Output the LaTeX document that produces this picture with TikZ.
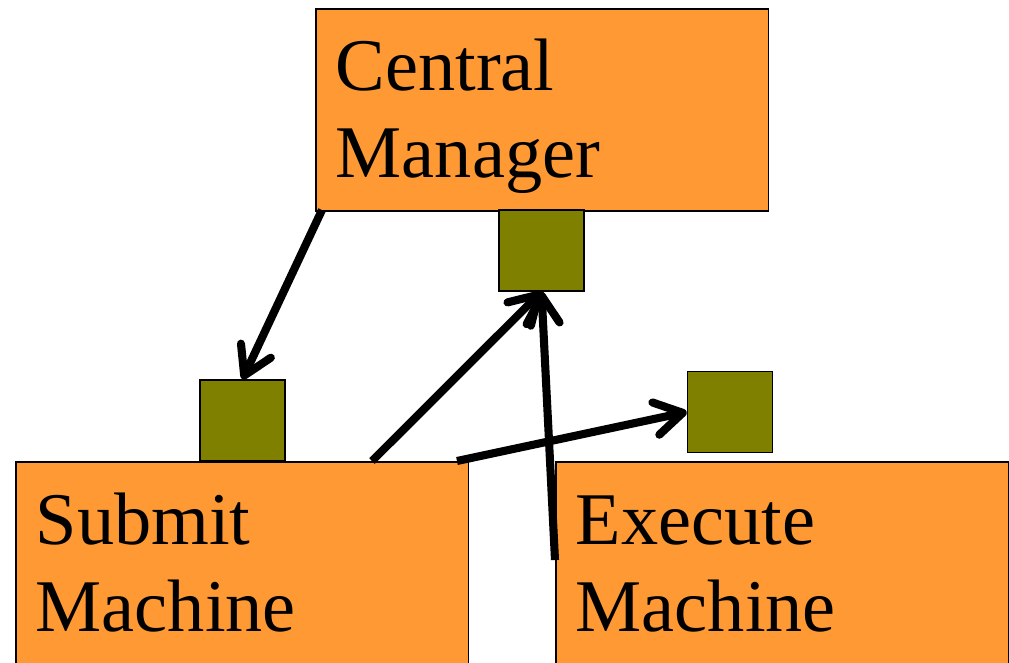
\documentclass[tikz,border=0pt]{standalone}
\usepackage{fontspec}
\setmainfont{Liberation Serif}
\usetikzlibrary{arrows.meta}
\definecolor{boxorange}{RGB}{255,153,51}
\definecolor{portolive}{RGB}{128,128,0}
\begin{document}
\begin{tikzpicture}[x=0.02cm,y=-0.02cm,
                       machine/.style={draw=black,line width=0.9pt,fill=boxorange,anchor=north west,inner xsep=0.4cm,inner ysep=0pt,text width=8.26cm,align=left,font=\fontsize{42.3pt}{49.3pt}\selectfont},
                       port/.style={draw=black,line width=0.9pt,fill=portolive,inner sep=0pt,minimum width=1.7cm,minimum height=1.62cm},
                       link/.style={line width=4.6pt,-{Straight Barb[length=0.55cm,width=0.66cm,round]}}
                               ]
              \useasboundingbox (0,0) rectangle (1009,663);
              \clip (0,0) rectangle (1009,663);
              \node[machine,text height=1.64cm,text depth=2.4cm] (cm) at (315,8) {Central\\Manager};
              \node[machine,text height=1.66cm,text depth=2.92cm] (submit) at (15,461) {Submit\\Machine};
              \node[machine,text height=1.66cm,text depth=2.92cm] (execute) at (555,461) {Execute\\Machine};
              \node[port] (cmport) at (541.5,250.5) {};
              \node[port] (subport) at (242.5,420.5) {};
              \node[port] (exeport) at (730,412) {};
              \coordinate (cmfoot) at (322,210);
              \coordinate (subtop) at (372,461);
              \coordinate (subedge) at (457,461);
              \coordinate (exeside) at (555,560);
              \path[link]%
                (cmfoot) edge (subport.north)  % manager to submit side
                (subtop) edge (cmport.south)
                (exeside) edge (cmport.south)
                (subedge) edge (exeport.west);
          \end{tikzpicture}
\end{document}
